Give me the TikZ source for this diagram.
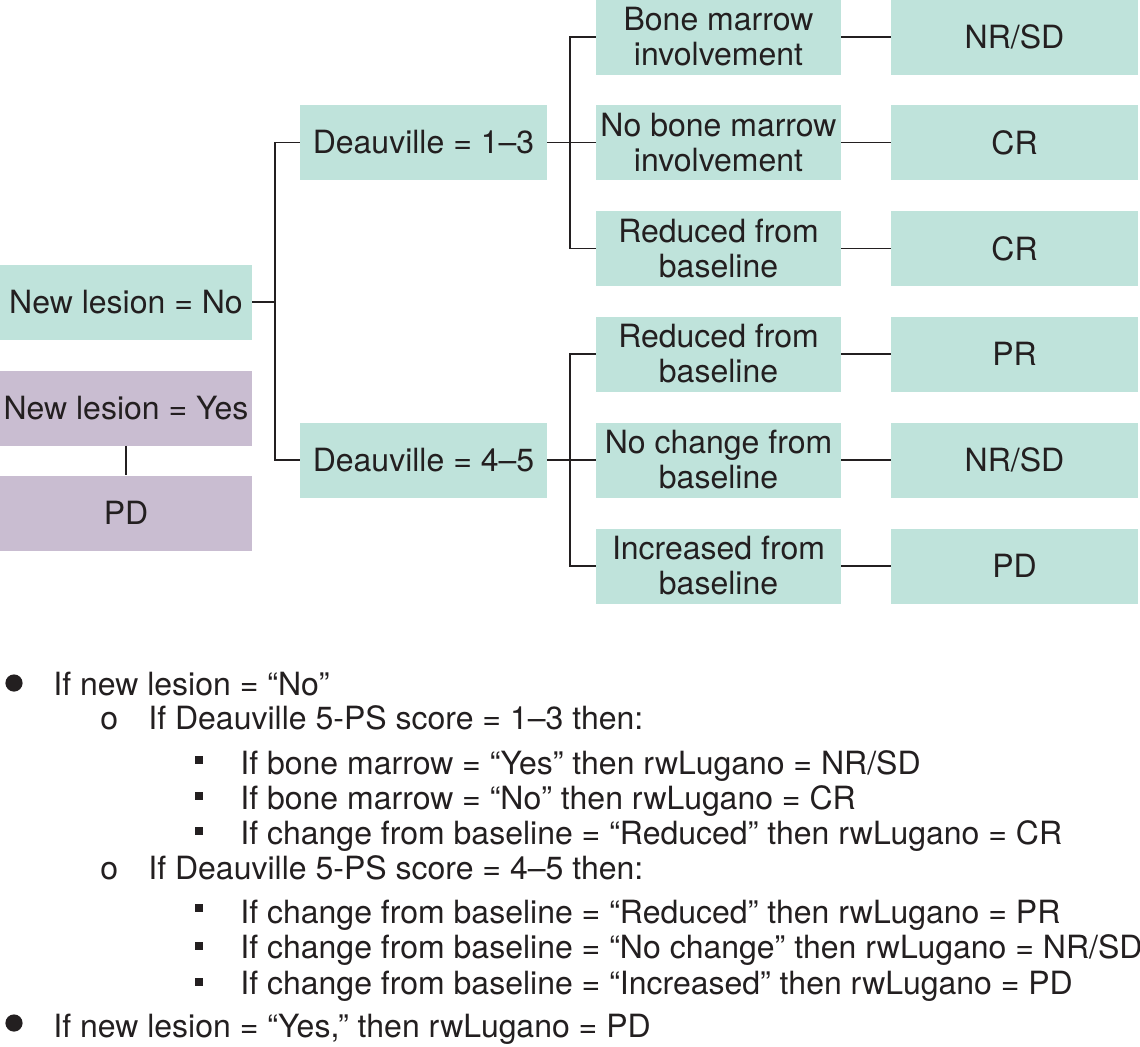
\documentclass[tikz,border=0pt]{standalone}
\usepackage{fontspec}
\setmainfont{TeX Gyre Heros}
\definecolor{tealbox}{HTML}{BFE3DB}
\definecolor{purplebox}{HTML}{C9BDD1}
\definecolor{ink}{HTML}{231F20}
\begin{document}
\begin{tikzpicture}[x=0.5pt,y=-0.5pt,
  base/.style={inner sep=0pt, align=center, text=ink,
    font=\fontsize{16pt}{17.5pt}\selectfont, minimum height=37.5pt},
  tbox/.style={base, fill=tealbox},
  pbox/.style={base, fill=purplebox},
  c1/.style={minimum width=126pt},
  c2/.style={minimum width=123.5pt},
  c3/.style={minimum width=122.5pt},
  c4/.style={minimum width=123.5pt},
  conn/.style={draw=ink, line width=0.75pt},
  listtxt/.style={inner sep=0pt, anchor=base west, text=ink,
    font=\fontsize{16pt}{17.5pt}\selectfont},
  sqb/.style={fill=ink, inner sep=0pt, minimum size=4.2pt},
  rdb/.style={fill=ink, circle, inner sep=0pt, minimum size=8.6pt}
]
\useasboundingbox (0,0) rectangle (1140,1046);

% column 1
\node[tbox,c1] (no) at (126,302) {New lesion = No};
\node[pbox,c1] (yes) at (126,408) {New lesion = Yes};
\node[pbox,c1] (pd0) at (126,513) {PD};

% column 2
\node[tbox,c2] (d13) at (423.5,142.5) {Deauville = 1–3};
\node[tbox,c2] (d45) at (423.5,460) {Deauville = 4–5};

% column 3
\node[tbox,c3] (r1) at (718.5,37) {Bone marrow\\involvement};
\node[tbox,c3] (r2) at (718.5,142.5) {No bone marrow\\involvement};
\node[tbox,c3] (r3) at (718.5,248.5) {Reduced from\\baseline};
\node[tbox,c3] (r4) at (718.5,354) {Reduced from\\baseline};
\node[tbox,c3] (r5) at (718.5,460) {No change from\\baseline};
\node[tbox,c3] (r6) at (718.5,566) {Increased from\\baseline};

% column 4
\node[tbox,c4] (o1) at (1014.5,37) {NR/SD};
\node[tbox,c4] (o2) at (1014.5,142.5) {CR};
\node[tbox,c4] (o3) at (1014.5,248.5) {CR};
\node[tbox,c4] (o4) at (1014.5,354) {PR};
\node[tbox,c4] (o5) at (1014.5,460) {NR/SD};
\node[tbox,c4] (o6) at (1014.5,566) {PD};

% junctions
\coordinate (j1) at (275,302);
\coordinate (j2) at (570,142.5);
\coordinate (j3) at (570,460);

% connectors
\draw[conn] (yes.south) -- (pd0.north);
\draw[conn] (no.east) -- (j1);
\draw[conn] (d13.west) -| (j1) |- (d45.west);
\draw[conn] (d13.east) -- (j2);
\draw[conn] (r1.west) -| (j2) |- (r3.west);
\draw[conn] (r2.west) -- (j2);
\draw[conn] (d45.east) -- (j3);
\draw[conn] (r4.west) -| (j3) |- (r6.west);
\draw[conn] (r5.west) -- (j3);
\draw[conn] (r1.east) -- (o1.west);
\draw[conn] (r2.east) -- (o2.west);
\draw[conn] (r3.east) -- (o3.west);
\draw[conn] (r4.east) -- (o4.west);
\draw[conn] (r5.east) -- (o5.west);
\draw[conn] (r6.east) -- (o6.west);

% bullet list
\node[rdb] (b1) at (14,683) {};
\node[listtxt] (l1) at (53,695.5) {If new lesion = “No”};
\node[listtxt] (ob1) at (100,729.5) {o};
\node[listtxt] (l2) at (148,729.5) {If Deauville 5-PS score = 1–3 then:};
\node[sqb] (s1) at (199,760) {};
\node[listtxt] (l3) at (240,774.5) {If bone marrow = “Yes” then rwLugano = NR/SD};
\node[sqb] (s2) at (199,796) {};
\node[listtxt] (l4) at (240,809.5) {If bone marrow = “No” then rwLugano = CR};
\node[sqb] (s3) at (199,831) {};
\node[listtxt] (l5) at (240,844.5) {If change from baseline = “Reduced” then rwLugano = CR};
\node[listtxt] (ob2) at (100,879.5) {o};
\node[listtxt] (l6) at (148,879.5) {If Deauville 5-PS score = 4–5 then:};
\node[sqb] (s4) at (199,908) {};
\node[listtxt] (l7) at (240,923.5) {If change from baseline = “Reduced” then rwLugano = PR};
\node[sqb] (s5) at (199,946) {};
\node[listtxt] (l8) at (240,958.5) {If change from baseline = “No change” then rwLugano = NR/SD};
\node[sqb] (s6) at (199,982) {};
\node[listtxt] (l9) at (240,994.5) {If change from baseline = “Increased” then rwLugano = PD};
\node[rdb] (b2) at (14,1023) {};
\node[listtxt] (l10) at (53,1037.5) {If new lesion = “Yes,” then rwLugano = PD};
\end{tikzpicture}
\end{document}
